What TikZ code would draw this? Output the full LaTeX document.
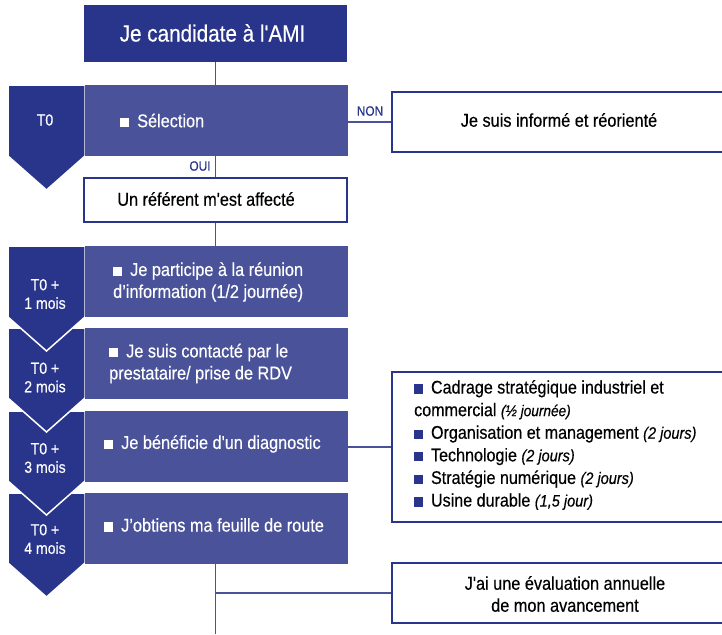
\documentclass[tikz,border=0pt]{standalone}
\usepackage{fontspec}
\setmainfont{Liberation Sans}[Ligatures=TeXOff, FakeStretch=0.88, FakeBold=0.4]
\definecolor{navy}{HTML}{29358A}
\definecolor{barblue}{HTML}{4A5399}
\definecolor{linec}{HTML}{4A5399}
\newcommand{\wsq}{\textcolor{white}{\rule{0.5em}{0.5em}}\hspace{0.42em}}
\newcommand{\nsq}{\textcolor{navy}{\rule{0.5em}{0.5em}}\hspace{0.42em}}
\newcommand{\fmain}{\fontsize{18.5}{22}\selectfont}
\newcommand{\flist}{\fontsize{18.3}{22.6}\selectfont}
\newcommand{\fchev}{\fontsize{16}{18.5}\selectfont}
\newcommand{\fsmall}{\fontsize{13.5}{14}\selectfont}
\newcommand{\fitA}{\fontsize{15.5}{14}\selectfont\itshape}
\newcommand{\fitB}{\fontsize{16.5}{14}\selectfont\itshape}
\newcommand{\chevron}[2]{\path[chev] (8,#1) -- (85,#1) -- (85,#2) -- (46.5,#2+34) -- (8,#2) -- cycle;}
\tikzset{
  bar/.style={fill=barblue, draw=none, minimum width=263pt, minimum height=71pt, anchor=north west, inner sep=0pt},
  navybox/.style={fill=navy, draw=none, text=white, inner sep=0pt},
  wbox/.style={draw=navy, line width=1.3pt, fill=white, inner sep=0pt, font=\fmain},
  chev/.style={fill=navy, draw=white, line width=1.5pt, line join=miter},
  conn/.style={draw=linec, line width=1.5pt},
  bartext/.style={text=white, font=\fmain, anchor=west, align=left, inner sep=0pt},
  chevtext/.style={text=white, font=\fchev, align=center, inner sep=0pt},
  lbl/.style={text=navy, font=\fsmall, inner sep=0pt}
}
\begin{document}
\begin{tikzpicture}[x=1pt,y=-1pt]
\fill[white] (0,0) rectangle (722,634);
\useasboundingbox (0,0) rectangle (722,634);

% chevrons (drawn bottom-up so upper tips overlap)
\chevron{493}{563}
\chevron{411}{481}
\chevron{328}{398}
\chevron{246}{317}
\chevron{85}{156}

% bars
\node[bar] (bar1) at (85,85) {};
\node[bar] (bar2) at (85,246) {};
\node[bar] (bar3) at (85,328) {};
\node[bar] (bar4) at (85,411) {};
\node[bar] (bar5) at (85,493) {};

% title
\node[navybox, minimum width=263pt, minimum height=57pt] (title) at (215.5,33.5) {};
\node[text=white, font=\fontsize{23.5}{24}\selectfont, inner sep=0pt] (titletxt) at (212.5,33) {Je candidate à l'AMI};

% chevron labels
\node[chevtext] (c1) at (45,120) {T0};
\node[chevtext] (c2) at (45,294) {T0 +\\1 mois};
\node[chevtext] (c3) at (45,377.5) {T0 +\\2 mois};
\node[chevtext] (c4) at (45,458) {T0 +\\3 mois};
\node[chevtext] (c5) at (45,539) {T0 +\\4 mois};

% bar texts
\node[bartext] (t1) at (120,120.5) {\wsq Sélection};
\node[bartext] (t2) at (113,282) {\wsq Je participe à la réunion\\d’information (1/2 journée)};
\node[bartext] (t3) at (109,363.5) {\wsq Je suis contacté par le\\prestataire/ prise de RDV};
\node[bartext] (t4) at (104,444) {\wsq Je bénéficie d'un diagnostic};
\node[bartext] (t5) at (104,525) {\wsq J’obtiens ma feuille de route};

% white boxes
\node[wbox, minimum width=263pt, minimum height=44pt] (ref) at (215.5,200) {};
\node[font=\fmain, inner sep=0pt] (reftxt) at (206,199) {Un référent m'est affecté};
\node[wbox, minimum width=333pt, minimum height=60pt] (nonbox) at (558.5,122) {};
\node[font=\fmain, inner sep=0pt] (nontxt) at (559,120) {Je suis informé et réorienté};
\node[wbox, minimum width=333pt, minimum height=150pt] (listbox) at (558.5,447) {};
\node[font=\flist, align=left, anchor=west, inner sep=0pt] (listtxt) at (414,445) {%
\nsq Cadrage stratégique industriel et\\
commercial {\fitA(½ journée)}\\
\nsq Organisation et management {\fitB(2 jours)}\\
\nsq Technologie {\fitB(2 jours)}\\
\nsq Stratégie numérique {\fitB(2 jours)}\\
\nsq Usine durable {\fitB(1,5 jour)}};
\node[wbox, minimum width=333pt, minimum height=60pt] (evalbox) at (558.5,593) {};
\node[font=\fmain, align=center, inner sep=0pt] (evaltxt) at (565,594) {J'ai une évaluation annuelle\\de mon avancement};

% connectors
\draw[conn] (title.south) -- (title.south |- bar1.north);
\draw[conn] (bar1.east |- nonbox.west) -- (nonbox.west);
\node[lbl] (non) at (370,111) {NON};
\draw[conn] (title.south |- bar1.south) -- (ref.north);
\node[lbl] (oui) at (200,166) {OUI};
\draw[conn] (ref.south) -- (ref.south |- bar2.north);
\draw[conn] (bar4.east |- listbox.west) -- (listbox.west);
\coordinate (endpt) at (215.5,634);
\draw[conn] (ref.south |- bar5.south) -- (endpt);
\draw[conn] (ref.south |- evalbox.west) -- (evalbox.west);
\end{tikzpicture}
\end{document}
